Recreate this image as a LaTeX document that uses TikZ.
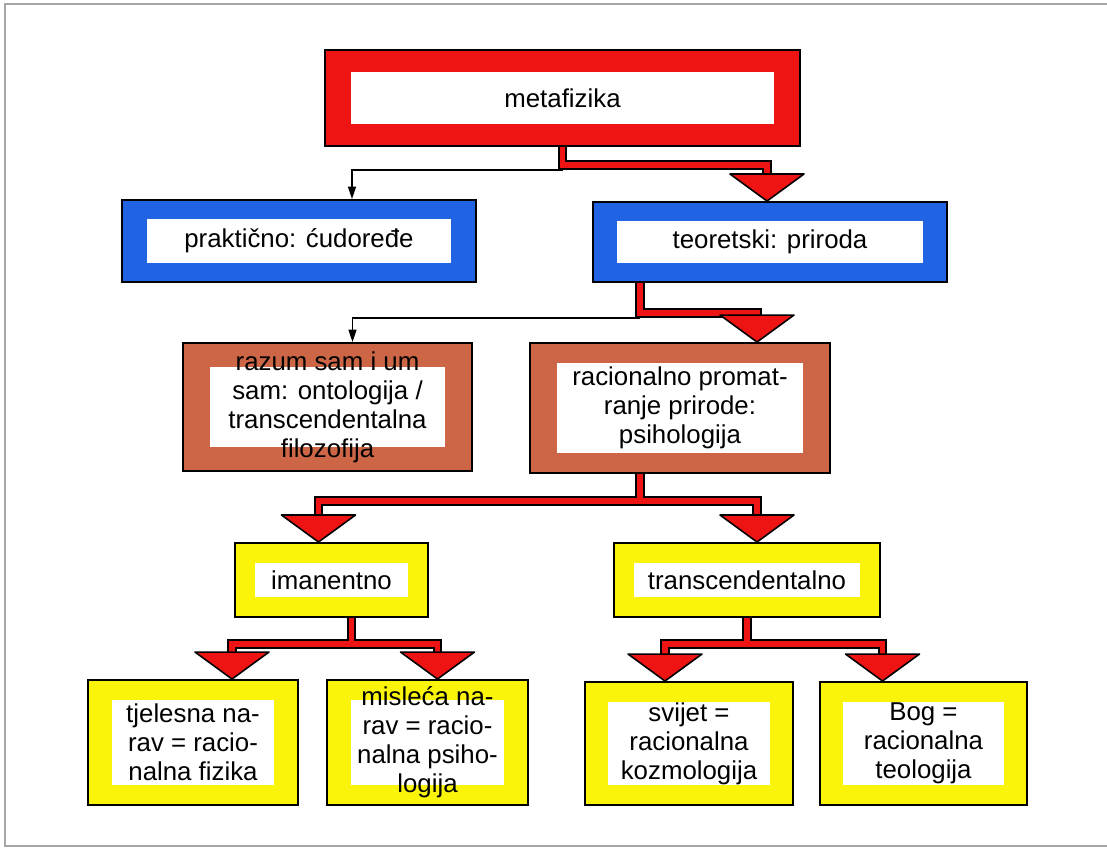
\documentclass[tikz,border=0pt]{standalone}
\usepackage{fontspec}
\setmainfont{Liberation Sans}
\usetikzlibrary{calc,arrows.meta}
\definecolor{BoxRed}{RGB}{238,20,20}
\definecolor{BoxBlue}{RGB}{32,100,228}
\definecolor{BoxBrown}{RGB}{204,102,70}
\definecolor{BoxYellow}{RGB}{250,244,10}

\tikzset{
  box/.style={draw=black, line width=1.1pt, align=center, inner sep=0pt,
    font=\fontsize{14.7}{16.5}\selectfont},
  inner white/.style 2 args={path picture={\fill[white]
    ($(path picture bounding box.north west)+(#1,#2)$) rectangle
    ($(path picture bounding box.south east)+(-#1,-#2)$);}},
  fat/.style={draw=BoxRed, line width=3.4pt, preaction={draw=black, line width=5.3pt}},
  fat tip/.style={fill=BoxRed, draw=black, line width=0.9pt, line join=round},
  thin link/.style={draw=black, line width=0.8pt, -{Triangle[length=7pt,width=4.5pt]}}
}

\begin{document}
\begin{tikzpicture}[x=0.02cm, y=-0.02cm]
\useasboundingbox (0,0) rectangle (1107,854);
\draw[gray!70, line width=0.6pt] (1107,4) -- (5,4) -- (5,846) -- (1107,846);

% boxes
\node[box, fill=BoxRed, inner white={26}{22}, minimum width=9.5cm, minimum height=1.92cm] (meta) at (562.5,98) {metafizika};
\node[box, fill=BoxBlue, inner white={25}{19}, minimum width=7.08cm, minimum height=1.64cm] (prak) at (299,241) {praktično: ćudoređe};
\node[box, fill=BoxBlue, inner white={24}{19}, minimum width=7.08cm, minimum height=1.6cm] (teo) at (770,242) {teoretski: priroda};
\node[box, fill=BoxBrown, inner white={27}{24}, minimum width=5.78cm, minimum height=2.56cm] (razum) at (327.5,407) {razum sam i um\\sam: ontologija /\\transcendentalna\\filozofija};
\node[box, fill=BoxBrown, inner white={27}{20}, minimum width=6cm, minimum height=2.6cm] (racion) at (680,408) {racionalno promat-\\ranje prirode:\\psihologija};
\node[box, fill=BoxYellow, inner white={20}{20}, minimum width=3.86cm, minimum height=1.48cm] (iman) at (331.5,580) {imanentno};
\node[box, fill=BoxYellow, inner white={20}{20}, minimum width=5.32cm, minimum height=1.48cm] (trans) at (747,580) {transcendentalno};
\node[box, fill=BoxYellow, inner white={24}{20}, minimum width=4.2cm, minimum height=2.5cm] (tjel) at (193,742.5) {tjelesna na-\\rav = racio-\\nalna fizika};
\node[box, fill=BoxYellow, inner white={24}{20}, minimum width=4.02cm, minimum height=2.5cm] (misl) at (427.5,742.5) {misleća na-\\rav = racio-\\nalna psiho-\\logija};
\node[box, fill=BoxYellow, inner white={23}{20}, minimum width=4.16cm, minimum height=2.46cm] (svij) at (689,743.5) {svijet =\\racionalna\\kozmologija};
\node[box, fill=BoxYellow, inner white={23}{20}, minimum width=4.14cm, minimum height=2.46cm] (bog) at (923.5,743.5) {Bog =\\racionalna\\teologija};

% tips of the red arrows
\coordinate (t1) at ($(teo.north)+(-3,0)$);
\coordinate (t2) at ($(racion.north)+(77,0)$);
\coordinate (t3) at ($(iman.north)+(-13,0)$);
\coordinate (t4) at ($(trans.north)+(10,0)$);
\coordinate (t5) at ($(tjel.north)+(39,0)$);
\coordinate (t6) at ($(misl.north)+(10,0)$);
\coordinate (t7) at ($(svij.north)+(-24,0)$);
\coordinate (t8) at ($(bog.north)+(-41,0)$);

% thin side branches
\draw[thin link] ($(meta.south)+(0,23)$) -| ($(prak.north)+(53,0)$);
\draw[thin link] ($(teo.south)+(-130,35)$) -| ($(razum.north)+(25,0)$);

% red branches
\draw[fat] (meta.south) |- ($(t1)+(0,-36)$) -- ($(t1)+(0,-25)$);
\draw[fat] ($(teo.south)+(-130,0)$) |- ($(t2)+(0,-29)$) -- ($(t2)+(0,-25)$);
\draw[fat] ($(racion.south)+(-40,0)$) -- ($(racion.south)+(-40,29)$)
  ($(t3)+(0,-25)$) |- ($(t4)+(0,-41)$) -- ($(t4)+(0,-25)$);
\draw[fat] ($(iman.south)+(20,0)$) -- ($(iman.south)+(20,28)$)
  ($(t5)+(0,-25)$) |- ($(t6)+(0,-35)$) -- ($(t6)+(0,-25)$);
\draw[fat] (trans.south) -- ($(trans.south)+(0,28)$)
  ($(t7)+(0,-25)$) |- ($(t8)+(0,-37)$) -- ($(t8)+(0,-25)$);
\foreach \t in {t1,t2,t3,t4,t5,t6,t7,t8}
  \filldraw[fat tip] (\t) -- ++(-37,-27) -- ++(74,0) -- cycle;
\end{tikzpicture}
\end{document}
